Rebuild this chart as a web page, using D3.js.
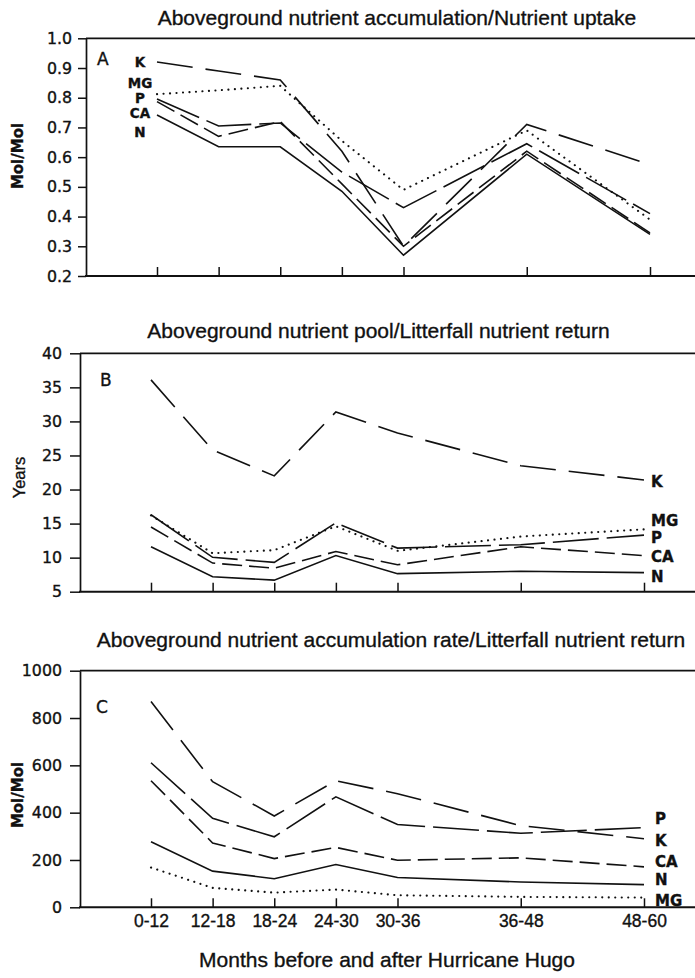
<!DOCTYPE html>
<html>
<head>
<meta charset="utf-8">
<script src="https://cdn.jsdelivr.net/npm/d3@7"></script>
<style>
  body { margin: 0; background: #fff; }
  svg { display: block; }
  text { fill: #111; stroke: #111; stroke-width: 0.35px; }
</style>
</head>
<body>
<svg id="chart" width="695" height="978"></svg>
<script>
// Sampling periods (months before and after Hurricane Hugo)
const periods = ["0-12", "12-18", "18-24", "24-30", "30-36", "36-48", "48-60"];
const nutrients = ["K", "MG", "P", "CA", "N"];

// A: aboveground nutrient accumulation / nutrient uptake (mol/mol)
const uptakeK  = [0.92, 0.89, 0.86, 0.62, 0.30, 0.71, 0.575];
const uptakeMG = [0.812, 0.825, 0.84, 0.655, 0.49, 0.69, 0.39];
const uptakeP  = [0.796, 0.705, 0.715, 0.55, 0.43, 0.645, 0.41];
const uptakeCA = [0.787, 0.67, 0.72, 0.51, 0.30, 0.62, 0.345];
const uptakeN  = [0.742, 0.635, 0.635, 0.485, 0.27, 0.61, 0.34];

// B: aboveground nutrient pool / litterfall nutrient return (years)
const poolK  = [36.1, 25.8, 22.0, 31.4, 28.3, 23.5, 21.4];
const poolMG = [16.2, 10.65, 11.1, 14.6, 11.0, 13.1, 14.15];
const poolP  = [16.3, 10.05, 9.3, 15.1, 11.4, 11.9, 13.3];
const poolCA = [14.5, 9.2, 8.45, 10.9, 8.95, 11.6, 10.3];
const poolN  = [11.6, 7.2, 6.7, 10.3, 7.65, 8.0, 7.8];

// C: aboveground nutrient accumulation rate / litterfall nutrient return (mol/mol)
const rateK  = [870, 531, 386, 535, 480, 345, 290];
const rateP  = [611, 376, 298, 467, 350, 313, 337];
const rateCA = [535, 272, 206, 253, 199, 209, 171];
const rateN  = [277, 153, 121, 181, 126, 107, 96];
const rateMG = [168, 82, 62, 75, 51, 44, 41];

// Axis tick labels
const ticksA = [0.2, 0.3, 0.4, 0.5, 0.6, 0.7, 0.8, 0.9, 1.0];
const ticksB = [5, 10, 15, 20, 25, 30, 35, 40];
const ticksC = [0, 200, 400, 600, 800, 1000];

// Period end month sets the horizontal position
const endMonth = periods.map(p => +p.split("-")[1]);

// Line style for each nutrient
const dashFor = { K: "36,13", MG: "0.1,6.4", P: "46,8", CA: "20,7", N: null };

const svg = d3.select("#chart");
const RIGHT = 695;

const panels = [
  {
    letter: "A", title: "Aboveground nutrient accumulation/Nutrient uptake",
    yTitle: "Mol/Mol", yTitleBold: true,
    series: { K: uptakeK, MG: uptakeMG, P: uptakeP, CA: uptakeCA, N: uptakeN },
    ticks: ticksA, fmt: d3.format(".1f"), domain: [0.2, 1.0],
    left: 86, top: 38.3, bottom: 276, x12: 157, x60: 650,
    tickLen: 8, pad: 6, titleX: 397, titleY: 25, yTitleX: 23, yTitleY: 156,
    letterX: 97, letterY: 65,
    labelMode: "start", labelX: 140, labelSize: 13.5,
    nudge: { K: 0, MG: -11, P: -1, CA: 11.5, N: 17 }
  },
  {
    letter: "B", title: "Aboveground nutrient pool/Litterfall nutrient return",
    yTitle: "Years", yTitleBold: false,
    series: { K: poolK, MG: poolMG, P: poolP, CA: poolCA, N: poolN },
    ticks: ticksB, fmt: d3.format("d"), domain: [5, 40],
    left: 80, top: 353.3, bottom: 591.7, x12: 151, x60: 644,
    tickLen: 10, pad: 8, titleX: 378.5, titleY: 338.3, yTitleX: 25, yTitleY: 477.5,
    letterX: 100, letterY: 385.7,
    labelMode: "end", labelX: 651, labelSize: 15,
    nudge: { K: 1.5, MG: -9, P: 2, CA: 1, N: 3.5 }
  },
  {
    letter: "C", title: "Aboveground nutrient accumulation rate/Litterfall nutrient return",
    yTitle: "Mol/Mol", yTitleBold: true,
    series: { K: rateK, MG: rateMG, P: rateP, CA: rateCA, N: rateN },
    ticks: ticksC, fmt: d3.format("d"), domain: [0, 1000],
    left: 80, top: 670.7, bottom: 907.3, x12: 151, x60: 644,
    tickLen: 10, pad: 8, titleX: 391, titleY: 647.3, yTitleX: 23, yTitleY: 795,
    letterX: 96, letterY: 713,
    labelMode: "end", labelX: 655, labelSize: 15,
    nudge: { K: 2, MG: 3, P: -9, CA: -5, N: -4.5 },
    xLabels: true
  }
];

panels.forEach(p => {
  const g = svg.append("g");
  const x = d3.scaleLinear().domain([12, 60]).range([p.x12, p.x60]);
  const y = d3.scaleLinear().domain(p.domain).range([p.bottom, p.top]);

  // Title
  g.append("text")
    .attr("x", p.titleX).attr("y", p.titleY)
    .attr("text-anchor", "middle")
    .style("font-family", "'Liberation Sans', Arial, sans-serif")
    .style("font-size", "21px")
    .text(p.title);

  // Frame: top rule and bottom axis line run to the right edge
  g.append("line")
    .attr("x1", p.left).attr("x2", RIGHT)
    .attr("y1", y(p.domain[1])).attr("y2", y(p.domain[1]))
    .attr("stroke", "#111").attr("stroke-width", 1.7);
  g.append("line")
    .attr("x1", p.left - 1).attr("x2", RIGHT)
    .attr("y1", y(p.domain[0])).attr("y2", y(p.domain[0]))
    .attr("stroke", "#111").attr("stroke-width", 1.9);

  // Y axis
  const yAxis = d3.axisLeft(y)
    .tickValues(p.ticks).tickFormat(p.fmt)
    .tickSize(p.tickLen).tickSizeOuter(0).tickPadding(p.pad);
  const ya = g.append("g").attr("transform", `translate(${p.left},0)`).call(yAxis);
  ya.select(".domain").attr("stroke", "#111").attr("stroke-width", 1.7);
  ya.selectAll(".tick line").attr("stroke", "#111").attr("stroke-width", 1.5);
  ya.selectAll(".tick text")
    .attr("fill", "#111")
    .style("font-family", "'DejaVu Sans', sans-serif")
    .style("font-size", "15.8px");

  // X axis: inward ticks at each period
  const xAxis = d3.axisBottom(x)
    .tickValues(endMonth)
    .tickFormat((d, i) => p.xLabels ? periods[i] : "")
    .tickSize(-9).tickSizeOuter(0).tickPadding(7);
  const xa = g.append("g").attr("transform", `translate(0,${p.bottom})`).call(xAxis);
  xa.select(".domain").remove();
  xa.selectAll(".tick line").attr("stroke", "#111").attr("stroke-width", 1.5);
  xa.selectAll(".tick text")
    .attr("fill", "#111")
    .style("font-family", "'Liberation Sans', Arial, sans-serif")
    .style("font-size", "17.5px");

  // Y axis title
  g.append("text")
    .attr("transform", `translate(${p.yTitleX},${p.yTitleY}) rotate(-90)`)
    .attr("text-anchor", "middle")
    .style("font-family", p.yTitleBold ? "'DejaVu Sans', sans-serif" : "'Liberation Sans', Arial, sans-serif")
    .style("font-weight", p.yTitleBold ? "bold" : "normal")
    .style("font-size", p.yTitleBold ? "15px" : "16.5px")
    .text(p.yTitle);

  // Panel letter
  g.append("text")
    .attr("x", p.letterX).attr("y", p.letterY)
    .style("font-family", "'DejaVu Sans', sans-serif")
    .style("font-size", "17px")
    .text(p.letter);

  // Series lines
  const line = d3.line()
    .x((d, i) => x(endMonth[i]))
    .y(d => y(d));
  nutrients.forEach(n => {
    g.append("path")
      .datum(p.series[n])
      .attr("d", line)
      .attr("fill", "none")
      .attr("stroke", "#111")
      .attr("stroke-width", n === "MG" ? 2.1 : 1.6)
      .attr("stroke-linecap", n === "MG" ? "round" : "butt")
      .attr("stroke-linejoin", "miter")
      .attr("stroke-dasharray", dashFor[n]);
  });

  // Series labels: beside the first point (A) or the last point (B, C)
  nutrients.forEach(n => {
    const vals = p.series[n];
    const v = p.labelMode === "start" ? vals[0] : vals[vals.length - 1];
    g.append("text")
      .attr("x", p.labelX)
      .attr("y", y(v) + p.nudge[n])
      .attr("dy", "0.36em")
      .attr("text-anchor", p.labelMode === "start" ? "middle" : "start")
      .style("font-family", "'DejaVu Sans', sans-serif")
      .style("font-weight", "bold")
      .style("font-size", p.labelSize + "px")
      .text(n);
  });
});

// Axis title under the bottom panel
svg.append("text")
  .attr("x", 387).attr("y", 967)
  .attr("text-anchor", "middle")
  .style("font-family", "'Liberation Sans', Arial, sans-serif")
  .style("font-size", "21px")
  .text("Months before and after Hurricane Hugo");
</script>
</body>
</html>
